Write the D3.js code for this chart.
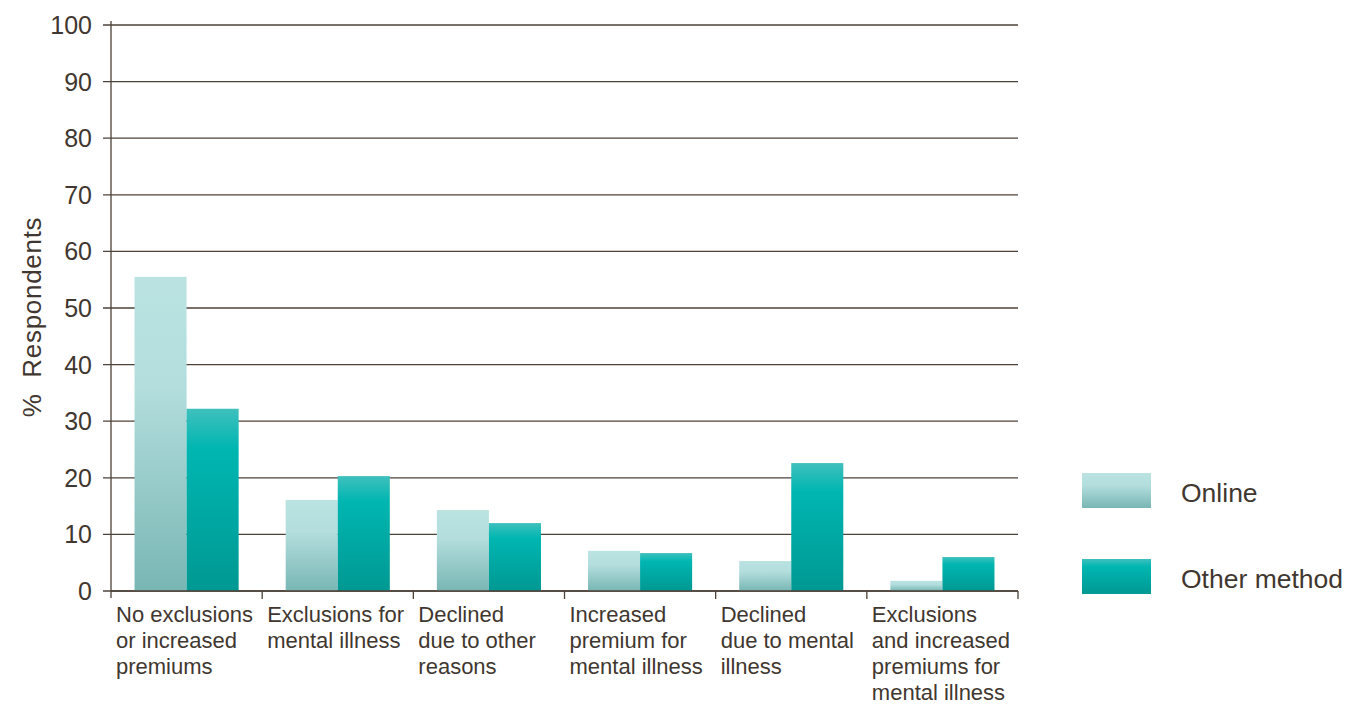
<!DOCTYPE html>
<html><head><meta charset="utf-8">
<script src="https://cdn.jsdelivr.net/npm/d3@7"></script>
<style>body{margin:0;background:#fff;}svg{font-family:"Liberation Sans",Arial,sans-serif;}</style>
</head><body>
<svg id="c" width="1352" height="706"></svg>
<script>
const categories = [
  ["No exclusions","or increased","premiums"],
  ["Exclusions for","mental illness"],
  ["Declined","due to other","reasons"],
  ["Increased","premium for","mental illness"],
  ["Declined","due to mental","illness"],
  ["Exclusions","and increased","premiums for","mental illness"]
];
const online = [55.5, 16.1, 14.3, 7.1, 5.3, 1.8];
const other = [32.2, 20.3, 12.0, 6.7, 22.6, 6.0];
const seriesNames = ["Online", "Other method"];
const yTicks = [0,10,20,30,40,50,60,70,80,90,100];

const svg = d3.select("#c");
const L = 111, R = 1018, T = 25, B = 591;
const ink = "#3f3730", grid = "#4d4238";
const x = d3.scaleBand().domain(d3.range(categories.length)).range([L, R]).paddingInner(0).paddingOuter(0);
const y = d3.scaleLinear().domain([0, 100]).range([B, T]);

const defs = svg.append("defs");
const g1 = defs.append("linearGradient").attr("id","gOn").attr("x1",0).attr("y1",0).attr("x2",0).attr("y2",1);
g1.append("stop").attr("offset","0%").attr("stop-color","#bae3e2");
g1.append("stop").attr("offset","35%").attr("stop-color","#b3dedd");
g1.append("stop").attr("offset","100%").attr("stop-color","#78b6b4");
const g2 = defs.append("linearGradient").attr("id","gOt").attr("x1",0).attr("y1",0).attr("x2",0).attr("y2",1);
g2.append("stop").attr("offset","0%").attr("stop-color","#3fc0bd");
g2.append("stop").attr("offset","22%").attr("stop-color","#00b6b1");
g2.append("stop").attr("offset","100%").attr("stop-color","#009892");

// gridlines
svg.append("g").selectAll("line").data(yTicks).join("line")
  .attr("x1", L - 8).attr("x2", R).attr("y1", d => y(d)).attr("y2", d => y(d))
  .attr("stroke", grid).attr("stroke-width", 1.3);
// y tick labels
svg.append("g").selectAll("text").data(yTicks).join("text")
  .attr("x", 92).attr("y", d => y(d)).attr("dy", "0.36em").attr("text-anchor", "end")
  .attr("font-size", 25).attr("fill", ink).text(d => d);
// axis line
svg.append("line").attr("x1", L).attr("x2", L).attr("y1", y(100) - 4).attr("y2", B + 7)
  .attr("stroke", grid).attr("stroke-width", 1.3);
// x ticks
const bounds = d3.range(categories.length + 1).map(i => i < categories.length ? x(i) : R);
svg.append("g").selectAll("line").data(bounds.slice(1)).join("line")
  .attr("x1", d => d).attr("x2", d => d).attr("y1", B).attr("y2", B + 8)
  .attr("stroke", grid).attr("stroke-width", 1.3);

// bars
const inner = d3.scaleBand().domain([0,1]).range([0, x.bandwidth()]).paddingOuter(0.452).paddingInner(0);
const bars = svg.append("g");
categories.forEach((c, i) => {
  [online[i], other[i]].forEach((v, k) => {
    bars.append("rect")
      .attr("x", x(i) + inner(k)).attr("width", inner.bandwidth())
      .attr("y", y(v)).attr("height", y(0) - y(v))
      .attr("fill", k === 0 ? "url(#gOn)" : "url(#gOt)");
  });
});
// redraw baseline over bars
svg.append("line").attr("x1", L).attr("x2", R).attr("y1", B).attr("y2", B).attr("stroke", grid).attr("stroke-width", 1.3);

// x labels
const xl = svg.append("g");
categories.forEach((lines, i) => {
  const t = xl.append("text").attr("x", x(i) + 5).attr("y", 622).attr("font-size", 22).attr("fill", ink);
  lines.forEach((ln, j) => t.append("tspan").attr("x", x(i) + 5).attr("y", 622 + j * 25.9).text(ln));
});

// y title
svg.append("text").attr("transform", "translate(41,317) rotate(-90)").attr("text-anchor", "middle")
  .attr("font-size", 26).attr("letter-spacing", 0.7).attr("xml:space", "preserve").attr("fill", ink).text("%  Respondents");

// legend
const lg = svg.append("g");
seriesNames.forEach((s, k) => {
  const yy = 473 + k * 86;
  lg.append("rect").attr("x", 1082).attr("y", yy).attr("width", 69).attr("height", 35)
    .attr("fill", k === 0 ? "url(#gOn)" : "url(#gOt)");
  lg.append("text").attr("x", 1181).attr("y", yy + 19).attr("dy", "0.36em")
    .attr("font-size", 26.5).attr("fill", ink).text(s);
});
</script>
</body></html>
